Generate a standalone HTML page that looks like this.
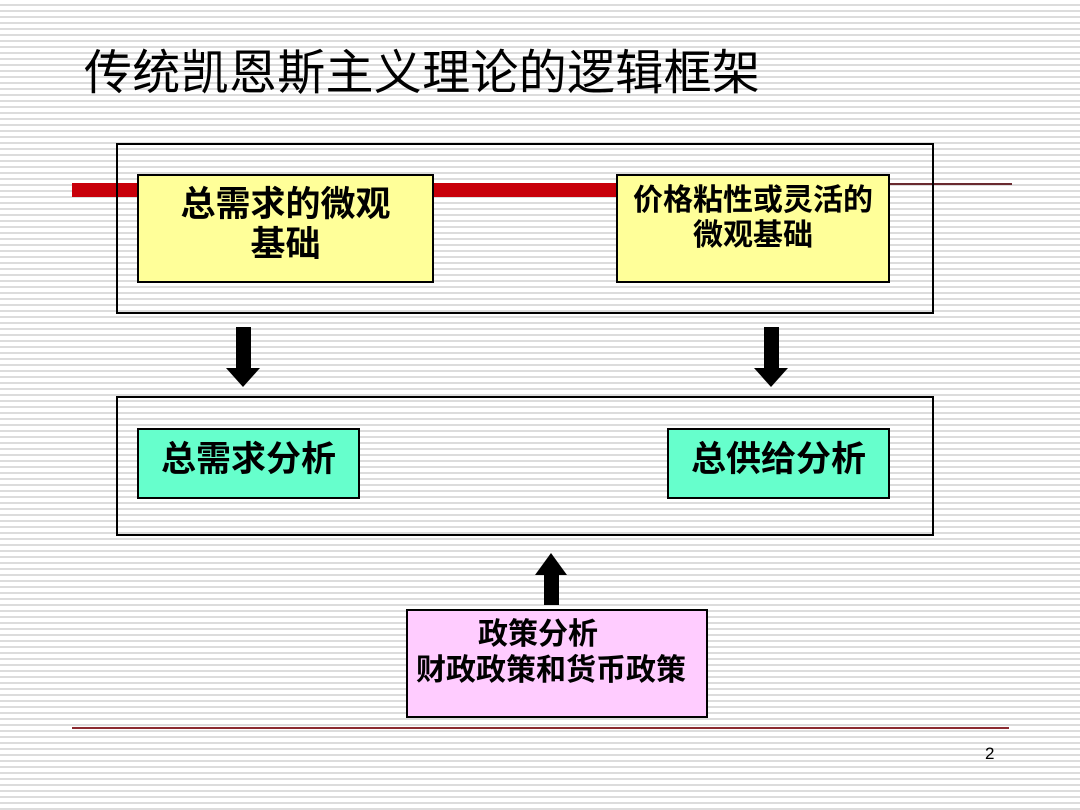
<!DOCTYPE html>
<html><head><meta charset="utf-8"><style>
body{margin:0}
#p{position:relative;width:1080px;height:810px;overflow:hidden;background:#fff repeating-linear-gradient(to bottom,#fff 0,#fff 4px,#dcdcdc 4px,#dcdcdc 6px);font-family:"Liberation Sans","Noto Sans CJK SC",sans-serif;color:#000}
.a{position:absolute}
.box{position:absolute;border:2px solid #000;box-sizing:border-box}
.t{position:absolute;text-align:center;font-weight:bold;box-sizing:border-box;border:2px solid #000}
</style></head><body><div id="p">
<div class="a" style="left:84px;top:44px;font-size:48px;line-height:60px;white-space:nowrap;letter-spacing:0.3px">传统凯恩斯主义理论的逻辑框架</div>
<div class="a" style="left:72px;top:183px;width:545px;height:14px;background:#c8000a"></div>
<div class="a" style="left:890px;top:183px;width:122px;height:2px;background:#6a2a30"></div>
<div class="box" style="left:116px;top:143px;width:818px;height:171px"></div>
<div class="t" style="left:137px;top:174px;width:297px;height:109px;background:#ffff99;font-size:35px;line-height:40px;padding-top:9px">总需求的微观<br>基础</div>
<div class="t" style="left:616px;top:174px;width:274px;height:109px;background:#ffff99;font-size:30px;line-height:35px;padding-top:7px">价格粘性或灵活的<br>微观基础</div>
<div class="a" style="left:236px;top:327px;width:15px;height:42px;background:#000"></div>
<div class="a" style="left:226px;top:368px;width:0;height:0;border-left:17px solid transparent;border-right:17px solid transparent;border-top:19px solid #000"></div>
<div class="a" style="left:764px;top:327px;width:15px;height:42px;background:#000"></div>
<div class="a" style="left:754px;top:368px;width:0;height:0;border-left:17px solid transparent;border-right:17px solid transparent;border-top:19px solid #000"></div>
<div class="box" style="left:116px;top:396px;width:818px;height:140px"></div>
<div class="t" style="left:137px;top:428px;width:223px;height:71px;background:#66ffcc;font-size:35px;line-height:60px">总需求分析</div>
<div class="t" style="left:667px;top:428px;width:223px;height:71px;background:#66ffcc;font-size:35px;line-height:60px">总供给分析</div>
<div class="a" style="left:544px;top:574px;width:15px;height:31px;background:#000"></div>
<div class="a" style="left:535px;top:553px;width:0;height:0;border-left:16px solid transparent;border-right:16px solid transparent;border-bottom:22px solid #000"></div>
<div class="box" style="left:406px;top:609px;width:302px;height:109px;background:#ffccff"></div>
<div class="a" style="left:478px;top:615px;font-size:30px;line-height:40px;font-weight:bold;white-space:nowrap">政策分析</div>
<div class="a" style="left:416px;top:651px;font-size:30px;line-height:40px;font-weight:bold;white-space:nowrap">财政政策和货币政策</div>
<div class="a" style="left:72px;top:727px;width:937px;height:2px;background:#8b2a30"></div>
<div class="a" style="left:985px;top:744px;font-size:17px">2</div>
</div></body></html>
